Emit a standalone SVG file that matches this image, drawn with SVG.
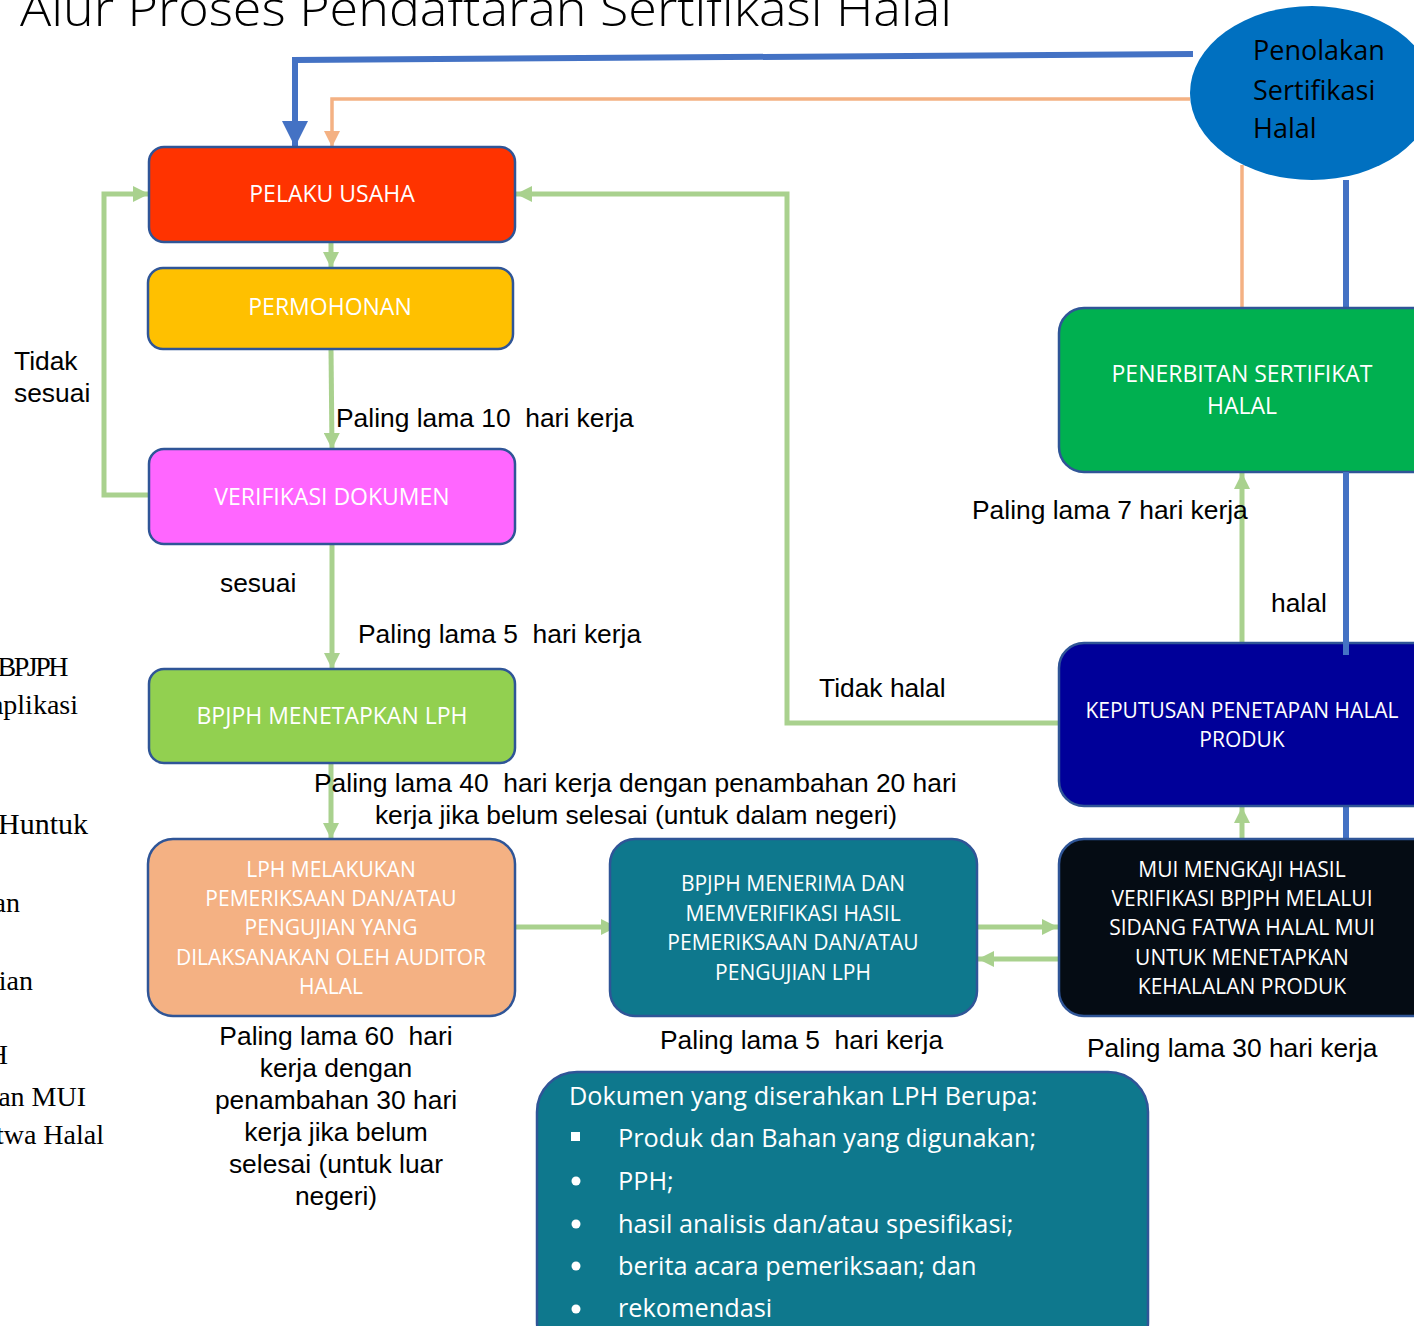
<svg xmlns="http://www.w3.org/2000/svg" width="1414" height="1326" viewBox="0 0 1414 1326">
<defs>
<style>
.box{stroke:#2F5597;stroke-width:2.5}
.bt{font-family:"Open Sans","DejaVu Sans",sans-serif;fill:#fff;text-anchor:middle}
.lbl{font-family:"Liberation Sans",Arial,sans-serif;font-size:26.4px;fill:#000}
.side{font-family:"Liberation Serif","Times New Roman",serif;font-size:28px;fill:#000;text-anchor:end}
.g{fill:none;stroke:#A9D18E;stroke-width:5}
.doc{font-family:"Open Sans","DejaVu Sans",sans-serif;font-size:25.3px;fill:#fff}
</style>
<marker id="ag" markerUnits="userSpaceOnUse" viewBox="0 0 16 16" refX="16" refY="8" markerWidth="16" markerHeight="16" orient="auto"><path d="M0,0 L16,8 L0,16 Z" fill="#A9D18E"/></marker>
<marker id="ab" markerUnits="userSpaceOnUse" viewBox="0 0 26 26" refX="26" refY="13" markerWidth="26" markerHeight="26" orient="auto"><path d="M0,0 L26,13 L0,26 Z" fill="#4472C4"/></marker>
<marker id="ao" markerUnits="userSpaceOnUse" viewBox="0 0 16 16" refX="16" refY="8" markerWidth="16" markerHeight="16" orient="auto"><path d="M0,0 L16,8 L0,16 Z" fill="#F4B183"/></marker>
</defs>
<rect width="1414" height="1326" fill="#fff"/>
<text x="20" y="26" font-family="'Open Sans','DejaVu Sans',sans-serif" font-weight="300" font-size="48" textLength="932" lengthAdjust="spacingAndGlyphs" fill="#000">Alur Proses Pendaftaran Sertifikasi Halal</text>

<g id="side-text">
<text class="side" x="66" y="676" letter-spacing="-2.5">l BPJPH</text>
<text class="side" x="78" y="714">aplikasi</text>
<text class="side" x="88" y="834" style="font-size:30px">Huntuk</text>
<text class="side" x="20" y="912">an</text>
<text class="side" x="33" y="990">ian</text>
<text class="side" x="8" y="1064">H</text>
<text class="side" x="86" y="1106">an MUI</text>
<text class="side" x="104" y="1144">twa Halal</text>
</g>

<g id="connectors">
<polyline points="1193,54 295,60 295,147" fill="none" stroke="#4472C4" stroke-width="6" marker-end="url(#ab)"/>
<polyline points="1190,99 332,99 332,147" fill="none" stroke="#F4B183" stroke-width="3.5" marker-end="url(#ao)"/>
<line x1="1242" y1="165" x2="1242" y2="308" stroke="#F4B183" stroke-width="3.5"/>
<line x1="1346" y1="180" x2="1346" y2="308" stroke="#4472C4" stroke-width="6"/>
<line x1="1346" y1="806" x2="1346" y2="839" stroke="#4472C4" stroke-width="6"/>
<line class="g" x1="331" y1="242" x2="331" y2="268" marker-end="url(#ag)"/>
<line class="g" x1="331" y1="349" x2="332" y2="449" marker-end="url(#ag)"/>
<polyline class="g" points="150,495 104,495 104,194 149,194" marker-end="url(#ag)"/>
<line class="g" x1="332" y1="544" x2="332" y2="669" marker-end="url(#ag)"/>
<line class="g" x1="331" y1="763" x2="331" y2="839" marker-end="url(#ag)"/>
<line class="g" x1="515" y1="927" x2="617" y2="927" marker-end="url(#ag)"/>
<line class="g" x1="977" y1="927" x2="1058" y2="927" marker-end="url(#ag)"/>
<line class="g" x1="1059" y1="959" x2="978" y2="959" marker-end="url(#ag)"/>
<line class="g" x1="1242" y1="839" x2="1242" y2="807" marker-end="url(#ag)"/>
<line class="g" x1="1242" y1="643" x2="1242" y2="473" marker-end="url(#ag)"/>
<polyline class="g" points="1059,723 787,723 787,194 516,194" marker-end="url(#ag)"/>
</g>

<g id="penolakan">
<ellipse cx="1312" cy="93" rx="122" ry="87" fill="#0070C0"/>
<text x="1253" y="60" font-family="'Open Sans','DejaVu Sans',sans-serif" font-size="27" fill="#000">Penolakan</text>
<text x="1253" y="100" font-family="'Open Sans','DejaVu Sans',sans-serif" font-size="27" fill="#000">Sertifikasi</text>
<text x="1253" y="138" font-family="'Open Sans','DejaVu Sans',sans-serif" font-size="27" fill="#000">Halal</text>
</g>

<g id="pelaku-usaha">
<rect class="box" x="149" y="147" width="366" height="95" rx="15" fill="#FF3300"/>
<text class="bt" x="332" y="202" font-size="23">PELAKU USAHA</text>
</g>
<g id="permohonan">
<rect class="box" x="148" y="268" width="365" height="81" rx="15" fill="#FFC000"/>
<text class="bt" x="330" y="315" font-size="23">PERMOHONAN</text>
</g>
<g id="verifikasi">
<rect class="box" x="149" y="449" width="366" height="95" rx="15" fill="#FF66FF"/>
<text class="bt" x="332" y="505" font-size="23">VERIFIKASI DOKUMEN</text>
</g>
<g id="bpjph-lph">
<rect class="box" x="149" y="669" width="366" height="94" rx="15" fill="#92D050"/>
<text class="bt" x="332" y="724" font-size="23">BPJPH MENETAPKAN LPH</text>
</g>
<g id="lph">
<rect class="box" x="148" y="839" width="367" height="177" rx="25" fill="#F4B183"/>
<g class="bt" font-size="21" fill="#FFF3EA">
<text x="331" y="877">LPH MELAKUKAN</text>
<text x="331" y="906">PEMERIKSAAN DAN/ATAU</text>
<text x="331" y="935">PENGUJIAN YANG</text>
<text x="331" y="965">DILAKSANAKAN OLEH AUDITOR</text>
<text x="331" y="994">HALAL</text>
</g>
</g>
<g id="bpjph-menerima">
<rect class="box" x="610" y="839" width="367" height="177" rx="25" fill="#0E788D"/>
<g class="bt" font-size="21">
<text x="793" y="891">BPJPH MENERIMA DAN</text>
<text x="793" y="921">MEMVERIFIKASI HASIL</text>
<text x="793" y="950">PEMERIKSAAN DAN/ATAU</text>
<text x="793" y="980">PENGUJIAN LPH</text>
</g>
</g>
<g id="mui">
<rect class="box" x="1059" y="839" width="390" height="177" rx="25" fill="#050C14"/>
<g class="bt" font-size="21">
<text x="1242" y="877">MUI MENGKAJI HASIL</text>
<text x="1242" y="906">VERIFIKASI BPJPH MELALUI</text>
<text x="1242" y="935">SIDANG FATWA HALAL MUI</text>
<text x="1242" y="965">UNTUK MENETAPKAN</text>
<text x="1242" y="994">KEHALALAN PRODUK</text>
</g>
</g>
<g id="keputusan">
<rect class="box" x="1059" y="643" width="390" height="163" rx="25" fill="#000099"/>
<g class="bt" font-size="21">
<text x="1242" y="718">KEPUTUSAN PENETAPAN HALAL</text>
<text x="1242" y="747">PRODUK</text>
</g>
</g>
<g id="penerbitan">
<rect class="box" x="1059" y="308" width="390" height="164" rx="25" fill="#00B050"/>
<g class="bt" font-size="23">
<text x="1242" y="382">PENERBITAN SERTIFIKAT</text>
<text x="1242" y="414">HALAL</text>
</g>
</g>
<line x1="1346" y1="472" x2="1346" y2="655" stroke="#4472C4" stroke-width="6"/>

<g id="labels">
<text class="lbl" x="14" y="370">Tidak</text>
<text class="lbl" x="14" y="402">sesuai</text>
<text class="lbl" x="336" y="427" xml:space="preserve">Paling lama 10  hari kerja</text>
<text class="lbl" x="220" y="592">sesuai</text>
<text class="lbl" x="358" y="643" xml:space="preserve">Paling lama 5  hari kerja</text>
<text class="lbl" x="314" y="792" xml:space="preserve">Paling lama 40  hari kerja dengan penambahan 20 hari</text>
<text class="lbl" x="636" y="824" text-anchor="middle">kerja jika belum selesai (untuk dalam negeri)</text>
<g text-anchor="middle">
<text class="lbl" x="336" y="1045" xml:space="preserve">Paling lama 60  hari</text>
<text class="lbl" x="336" y="1077">kerja dengan</text>
<text class="lbl" x="336" y="1109">penambahan 30 hari</text>
<text class="lbl" x="336" y="1141">kerja jika belum</text>
<text class="lbl" x="336" y="1173">selesai (untuk luar</text>
<text class="lbl" x="336" y="1205">negeri)</text>
</g>
<text class="lbl" x="660" y="1049" xml:space="preserve">Paling lama 5  hari kerja</text>
<text class="lbl" x="1087" y="1057">Paling lama 30 hari kerja</text>
<text class="lbl" x="972" y="519">Paling lama 7 hari kerja</text>
<text class="lbl" x="1271" y="612">halal</text>
<text class="lbl" x="819" y="697">Tidak halal</text>
</g>

<g id="dokumen">
<rect class="box" x="537" y="1072" width="611" height="290" rx="40" fill="#0E788D"/>
<text class="doc" x="569" y="1105">Dokumen yang diserahkan LPH Berupa:</text>
<rect x="571" y="1132" width="9" height="9" fill="#fff"/>
<text class="doc" x="618" y="1147">Produk dan Bahan yang digunakan;</text>
<circle cx="576" cy="1181" r="4.5" fill="#fff"/>
<text class="doc" x="618" y="1190">PPH;</text>
<circle cx="576" cy="1224" r="4.5" fill="#fff"/>
<text class="doc" x="618" y="1233">hasil analisis dan/atau spesifikasi;</text>
<circle cx="576" cy="1266" r="4.5" fill="#fff"/>
<text class="doc" x="618" y="1275">berita acara pemeriksaan; dan</text>
<circle cx="576" cy="1309" r="4.5" fill="#fff"/>
<text class="doc" x="618" y="1317">rekomendasi</text>
</g>
</svg>
